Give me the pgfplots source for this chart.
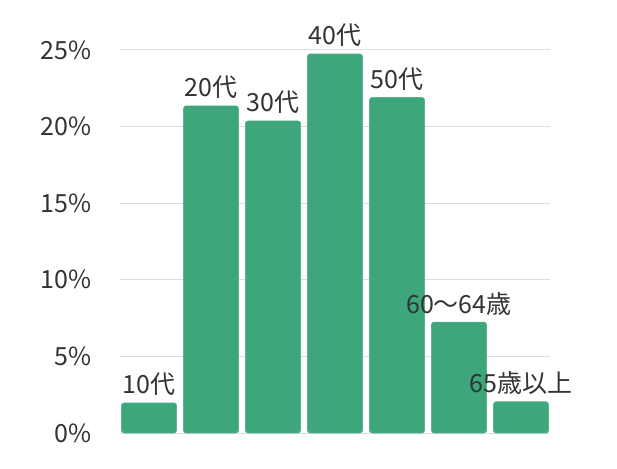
\documentclass[border=0pt]{standalone}
\usepackage{pgfplots}
\pgfplotsset{compat=1.18}
\usepackage{fontspec}
\setmainfont{Noto Sans CJK JP}
\newfontfamily\jp{Noto Sans CJK JP}
\definecolor{barg}{HTML}{3DA67A}
\definecolor{bare}{HTML}{5BB48E}
\definecolor{txt}{HTML}{333333}
\definecolor{grid}{HTML}{DDDDDD}
\begin{document}
\begin{tikzpicture}
\begin{axis}[
  scale only axis,
  width=430bp, height=383bp,
  xmin=-0.468, xmax=6.468,
  ymin=0, ymax=25,
  axis line style={draw=none},
  xtick=\empty,
  ytick={0,5,10,15,20,25},
  yticklabel={\pgfmathprintnumber{\tick}\%},
  /pgf/number format/assume math mode=true,
  yticklabel style={font=\jp\fontsize{25bp}{27bp}\selectfont, text=txt, anchor=east, xshift=-25bp},
  major tick length=0pt,
  ymajorgrids,
  grid style={draw=grid, line width=1bp},
  clip=false,
  ybar,
  bar width=55bp,
  bar shift=0pt,
  nodes near coords,
  point meta=explicit symbolic,
  every node near coord/.append style={font=\jp\fontsize{25bp}{27bp}\selectfont, text=txt, anchor=base, yshift=9bp},
]
\addplot[fill=barg, draw=bare, line width=0.6bp, rounded corners=2.5bp] coordinates {
  (0,1.96) [10代]
  (1,21.35) [20代]
  (2,20.37) [30代]
  (3,24.74) [40代]
  (4,21.9) [50代]
  (5,7.24) [60～64歳]
  (6,2.04) [65歳以上]
};
\path[use as bounding box] (axis cs:-0.468,0) ++(-120bp,-36bp) rectangle ++(617bp,469bp);
\end{axis}
\end{tikzpicture}
\end{document}
